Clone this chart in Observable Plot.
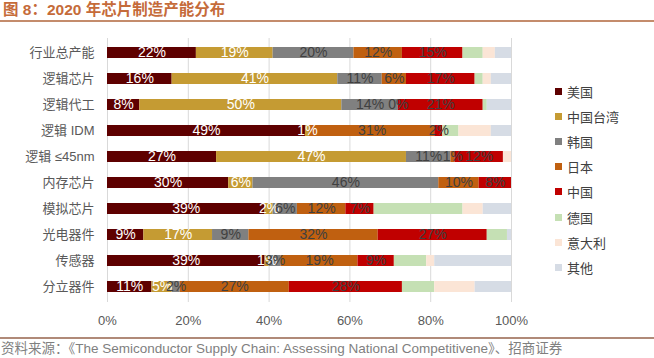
<!DOCTYPE html>
<html>
<head>
<meta charset="utf-8">
<script src="https://cdn.jsdelivr.net/npm/d3@7"></script>
<script src="https://cdn.jsdelivr.net/npm/@observablehq/plot@0.6"></script>
<style>
  html, body { margin: 0; padding: 0; background: #fff; }
  body { width: 654px; height: 358px; position: relative; overflow: hidden;
         font-family: "Liberation Sans", Arial, "Noto Sans CJK SC", sans-serif; }
  #title { position: absolute; left: 0; top: 0; width: 654px; height: 20px;
           border-bottom: 2px solid #c48c6c; color: #c56b3a; font-weight: bold;
           font-size: 15.5px; line-height: 20px; padding-left: 3px; box-sizing: content-box; }
  #chart { position: absolute; left: 0; top: 24px; }
  #legend { position: absolute; left: 555px; top: 79px; }
  .item { height: 25.1px; display: flex; align-items: center; font-size: 13px; color: #404040;
          font-family: "Noto Sans CJK SC", sans-serif; }
  .sw { width: 7px; height: 7px; margin-right: 5px; }
  #caption { position: absolute; left: 0; top: 337px; width: 654px; border-top: 2px solid #b08a78;
             font-size: 13.5px; line-height: 19px; color: #7f7f7f; padding-left: 1px; white-space: nowrap; }
</style>
</head>
<body>
<div id="title">图 8：2020 年芯片制造产能分布</div>
<div id="chart"></div>
<div id="legend"></div>
<div id="caption">资料来源：《The Semiconductor Supply Chain: Assessing National Competitivene》、招商证券</div>
<script>
const categories = ["行业总产能", "逻辑芯片", "逻辑代工", "逻辑 IDM", "逻辑 ≤45nm", "内存芯片", "模拟芯片", "光电器件", "传感器", "分立器件"];
const seriesNames = ["美国", "中国台湾", "韩国", "日本", "中国", "德国", "意大利", "其他"];
const seriesColors = ["#5e0000", "#c59b33", "#808080", "#c06010", "#c00000", "#c5e0b4", "#fbe5d6", "#d6dce5"];
const usValues     = [22, 16,  8, 49, 27, 30, 39,  9, 39, 11];
const taiwanValues = [19, 41, 50,  1, 47,  6,  2, 17,  1,  5];
const koreaValues  = [20, 11, 14, null, 11, 46, 6,  9,  3,  2];
const japanValues  = [12,  6,  0, 31,  1, 10, 12, 32, 19, 27];
const chinaValues  = [15, 17, 21,  2, 12,  8,  7, 27,  9, 28];
const germanyValues= [ 5,  2,  1,  4,  0,  0, 22,  5,  8,  8];
const italyValues  = [ 3,  2,  0,  8,  2,  0,  5,  0,  2, 10];
const otherValues  = [ 4,  5,  6,  5,  0,  0,  7,  1, 19,  9];
const xTicks = [0, 20, 40, 60, 80, 100];

const seriesValues = [usValues, taiwanValues, koreaValues, japanValues, chinaValues, germanyValues, italyValues, otherValues];
const whiteLabelSeries = ["美国", "中国台湾"];
const darkLabelSeries = ["韩国", "日本", "中国"];

const rows = [];
categories.forEach((c, i) => {
  seriesNames.forEach((s, j) => {
    const v = seriesValues[j][i];
    if (v != null) rows.push({cat: c, series: s, value: v});
  });
});

const stackBase = {y: "cat", x: "value", z: "series", order: seriesNames};

const chart = Plot.plot({
  width: 654,
  height: 312,
  marginLeft: 107,
  marginRight: 143,
  marginTop: 14,
  marginBottom: 34,
  style: {fontFamily: "'Liberation Sans', Arial, 'Noto Sans CJK SC', sans-serif", fontSize: "13px", color: "#595959", background: "transparent"},
  x: {domain: [0, 100], ticks: xTicks, tickFormat: d => d + "%", label: null, tickSize: 0, tickPadding: 13},
  y: {domain: categories, label: null, tickSize: 0, tickPadding: 13, paddingInner: 0.56, paddingOuter: 0.28},
  color: {domain: seriesNames, range: seriesColors},
  marks: [
    Plot.gridX(xTicks, {stroke: "#d9d9d9", strokeOpacity: 1}),
    Plot.barX(rows, Plot.stackX({...stackBase, fill: "series"})),
    Plot.text(rows, Plot.stackX({...stackBase,
      text: d => whiteLabelSeries.includes(d.series) ? d.value + "%" : null,
      fill: "white", fontSize: 14, fontFamily: "'Liberation Sans', Arial, sans-serif"})),
    Plot.text(rows, Plot.stackX({...stackBase,
      text: d => darkLabelSeries.includes(d.series) ? d.value + "%" : null,
      fill: "#404040", fontSize: 14, fontFamily: "'Liberation Sans', Arial, sans-serif"}))
  ]
});
document.getElementById("chart").appendChild(chart);

const legend = document.getElementById("legend");
seriesNames.forEach((s, j) => {
  const item = document.createElement("div");
  item.className = "item";
  const sw = document.createElement("span");
  sw.className = "sw";
  sw.style.background = seriesColors[j];
  const label = document.createElement("span");
  label.textContent = s;
  item.appendChild(sw);
  item.appendChild(label);
  legend.appendChild(item);
});
</script>
</body>
</html>
